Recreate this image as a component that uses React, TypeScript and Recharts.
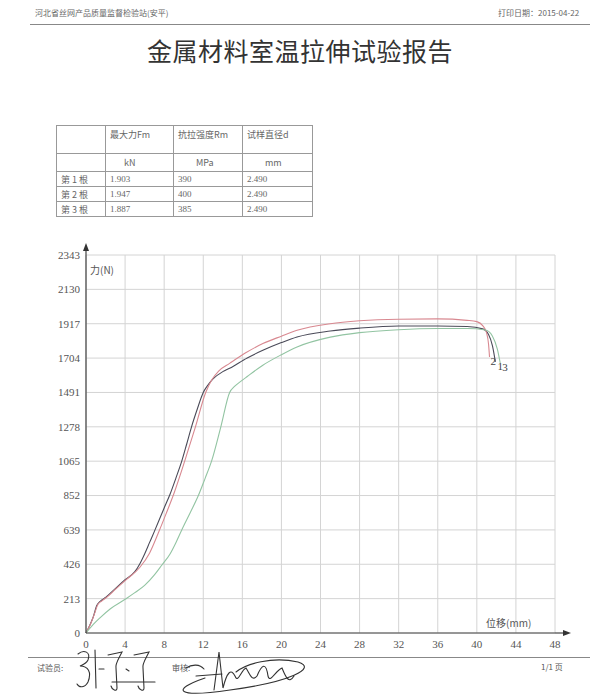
import { CartesianGrid, Line, LineChart, XAxis, YAxis } from "recharts";

// displacement (mm) / force (N) readings for the three specimens
const spec1X = [0, 0.4, 0.75, 1.1, 1.45, 2.0, 3.0, 4.0, 5.0, 5.5, 6.0, 6.5, 7.0, 8.0, 8.6, 9.2, 9.8, 10.3, 10.8, 11.4, 12.0, 12.4, 13.0, 14.0, 14.7, 16.5, 18.1, 20.0, 21.6, 25.0, 28.0, 32.0, 36.0, 39.0, 40.6, 41.2, 41.6, 41.9];
const spec1Y = [0, 50, 101, 170, 196, 220, 275, 330, 380, 428, 490, 560, 630, 775, 860, 960, 1065, 1170, 1278, 1390, 1491, 1530, 1575, 1620, 1641, 1705, 1752, 1800, 1835, 1872, 1890, 1903, 1903, 1900, 1885, 1850, 1780, 1680];

const spec2X = [0, 0.5, 0.9, 1.2, 1.6, 2.2, 3.0, 4.0, 5.5, 6.5, 7.4, 8.2, 9.0, 10.1, 11.2, 12.25, 12.85, 13.6, 14.7, 16.3, 18.1, 20.0, 21.6, 25.0, 28.0, 32.0, 36.0, 39.0, 40.0, 40.6, 41.0, 41.2, 41.3];
const spec2Y = [0, 60, 125, 175, 198, 225, 270, 325, 406, 495, 620, 740, 865, 1065, 1278, 1491, 1567, 1625, 1671, 1735, 1794, 1840, 1876, 1917, 1935, 1945, 1947, 1938, 1930, 1905, 1860, 1790, 1711];

const spec3X = [0, 0.7, 1.4, 2.5, 4.0, 5.0, 6.0, 7.0, 7.75, 8.6, 9.2, 9.8, 10.7, 11.5, 12.2, 12.85, 13.8, 14.7, 15.2, 15.8, 16.5, 18.1, 20.0, 21.6, 25.0, 28.0, 32.0, 36.0, 39.0, 40.9, 41.6, 42.1, 42.4];
const spec3Y = [0, 50, 92, 150, 209, 250, 295, 360, 420, 490, 560, 639, 750, 852, 960, 1065, 1278, 1491, 1528, 1558, 1590, 1660, 1725, 1773, 1834, 1862, 1880, 1887, 1887, 1878, 1840, 1760, 1672];

const xTicks = [0, 4, 8, 12, 16, 20, 24, 28, 32, 36, 40, 44, 48];
const yTicks = [0, 213, 426, 639, 852, 1065, 1278, 1491, 1704, 1917, 2130, 2343];

const rowNames = ["第 1 根", "第 2 根", "第 3 根"];
const maxForce = ["1.903", "1.947", "1.887"];
const strength = ["390", "400", "385"];
const diameter = ["2.490", "2.490", "2.490"];

const toPoints = (xs: number[], ys: number[]) => xs.map((x, i) => ({ x, y: ys[i] }));

const series = [
  { name: "1", color: "#4a4a58", dx: 2, data: toPoints(spec1X, spec1Y) },
  { name: "2", color: "#d88890", dx: 1, data: toPoints(spec2X, spec2Y) },
  { name: "3", color: "#92c4a2", dx: 2, data: toPoints(spec3X, spec3Y) },
];

const serif = '"Liberation Serif", "Noto Sans CJK SC", serif';
const cjk = '"Noto Sans CJK SC", "Liberation Serif", sans-serif';

function EndLabel(props: any) {
  const { x, y, index, count, text, dx } = props;
  if (index !== count - 1) return null;
  return (
    <text x={x + dx} y={y + 8} fontSize={11} fill="#444" fontFamily={serif}>
      {text}
    </text>
  );
}

const cell: React.CSSProperties = {
  border: "1px solid #999",
  padding: "2px 4px",
  verticalAlign: "top",
  color: "#666",
};

export default function App() {
  return (
    <div
      style={{
        position: "absolute",
        left: 0,
        top: 0,
        width: 600,
        height: 700,
        background: "#fff",
        overflow: "hidden",
        fontFamily: cjk,
      }}
    >
      <div style={{ position: "absolute", left: 35, top: 7, fontSize: 8, color: "#666" }}>
        河北省丝网产品质量监督检验站(安平)
      </div>
      <div style={{ position: "absolute", left: 498, top: 7, fontSize: 8, color: "#666" }}>
        打印日期：2015-04-22
      </div>
      <div style={{ position: "absolute", left: 30, top: 24, width: 560, borderTop: "1px solid #888" }} />

      <div
        style={{
          position: "absolute",
          left: 0,
          width: 600,
          top: 32,
          textAlign: "center",
          fontSize: 25,
          color: "#333",
          letterSpacing: 0.5,
        }}
      >
        金属材料室温拉伸试验报告
      </div>

      <table
        style={{
          position: "absolute",
          left: 56,
          top: 125,
          width: 256,
          borderCollapse: "collapse",
          fontSize: 9,
          fontFamily: cjk,
          tableLayout: "fixed",
        }}
      >
        <colgroup>
          <col style={{ width: 49 }} />
          <col style={{ width: 68 }} />
          <col style={{ width: 69 }} />
          <col style={{ width: 70 }} />
        </colgroup>
        <tbody>
          <tr style={{ height: 28 }}>
            <td style={cell}></td>
            <td style={cell}>最大力Fm</td>
            <td style={cell}>抗拉强度Rm</td>
            <td style={cell}>试样直径d</td>
          </tr>
          <tr style={{ height: 17 }}>
            <td style={cell}></td>
            <td style={{ ...cell, paddingLeft: 18, verticalAlign: "middle" }}>kN</td>
            <td style={{ ...cell, paddingLeft: 22, verticalAlign: "middle" }}>MPa</td>
            <td style={{ ...cell, paddingLeft: 22, verticalAlign: "middle" }}>mm</td>
          </tr>
          {rowNames.map((r, i) => (
            <tr key={r} style={{ height: 15 }}>
              <td style={{ ...cell, padding: "0 4px", verticalAlign: "middle", whiteSpace: "pre" }}>{r}</td>
              <td style={{ ...cell, padding: "0 4px", verticalAlign: "middle", fontFamily: serif }}>{maxForce[i]}</td>
              <td style={{ ...cell, padding: "0 4px", verticalAlign: "middle", fontFamily: serif }}>{strength[i]}</td>
              <td style={{ ...cell, padding: "0 4px", verticalAlign: "middle", fontFamily: serif }}>{diameter[i]}</td>
            </tr>
          ))}
        </tbody>
      </table>

      <div style={{ position: "absolute", left: 0, top: 235 }}>
        <LineChart
          width={600}
          height={440}
          margin={{ top: 20, right: 45, bottom: 17, left: 30 }}
        >
          <CartesianGrid stroke="#d4d4d4" strokeWidth={1} horizontalValues={yTicks} verticalValues={xTicks} />
          <XAxis
            type="number"
            dataKey="x"
            domain={[0, 48]}
            ticks={xTicks}
            interval={0}
            height={25}
            tickSize={0}
            tickMargin={7}
            axisLine={{ stroke: "#444", strokeWidth: 1.2 }}
            tick={{ fill: "#555", fontSize: 11, fontFamily: serif }}
            allowDuplicatedCategory={false}
          />
          <YAxis
            type="number"
            dataKey="y"
            domain={[0, 2343]}
            ticks={yTicks}
            interval={0}
            width={56}
            tickSize={0}
            tickMargin={6}
            axisLine={{ stroke: "#444", strokeWidth: 1.2 }}
            tick={{ fill: "#555", fontSize: 11, fontFamily: serif }}
          />
          {series.map((s) => (
            <Line
              key={s.name}
              data={s.data}
              dataKey="y"
              type="monotone"
              stroke={s.color}
              strokeWidth={1.1}
              dot={false}
              isAnimationActive={false}
              label={(p: any) => <EndLabel {...p} count={s.data.length} text={s.name} dx={s.dx} />}
            />
          ))}
        </LineChart>
      </div>

      <div style={{ position: "absolute", left: 90, top: 262, fontSize: 10, color: "#555", fontFamily: cjk }}>
        力(N)
      </div>
      <div style={{ position: "absolute", left: 486, top: 615, fontSize: 10, color: "#555", fontFamily: cjk }}>
        位移(mm)
      </div>

      <div style={{ position: "absolute", left: 28, top: 657, width: 562, borderTop: "1px solid #888" }} />
      <div style={{ position: "absolute", left: 37, top: 662, fontSize: 8, color: "#555" }}>试验员:</div>
      <div style={{ position: "absolute", left: 172, top: 662, fontSize: 8, color: "#555" }}>审核:</div>
      <div style={{ position: "absolute", left: 541, top: 661, fontSize: 8, color: "#555" }}>1/1 页</div>

      <svg width={600} height={700} style={{ position: "absolute", left: 0, top: 0, pointerEvents: "none" }}>
        <line x1={86} y1={255} x2={86} y2={248} stroke="#444" strokeWidth={1.2} />
        <polygon points="86,243 83,251 89,251" fill="#333" />
        <line x1={555} y1={633} x2={564} y2={633} stroke="#444" strokeWidth={1.2} />
        <polygon points="571,633 563,630 563,636" fill="#333" />
        <g fill="none" stroke="#333" strokeWidth={1.1} strokeLinecap="round">
          <path d="M78,654 C84,649 91,652 88,660 C86,664 82,665 80,666 C88,666 92,672 88,682 C85,688 79,688 77,684" />
          <path d="M95,650 L96,688" />
          <path d="M99,669 L104,669" />
          <path d="M108,655 L122,652 C118,660 115,664 116,668 L117,688 C117,692 112,690 111,686" />
          <path d="M126,669 L129,671" />
          <path d="M134,655 L149,652 C145,660 142,664 143,668 L144,688 C144,692 139,690 138,686" />
          <path d="M112,682 L155,682" />
          <path d="M186,668 C192,664 200,664 204,669" />
          <path d="M196,676 L222,674" />
          <path d="M214,690 L219,652 L223,688 C227,672 231,668 235,676 C238,684 241,670 246,668 C250,674 252,682 257,676 C262,664 266,662 268,676 C270,684 276,670 282,668 C286,678 289,684 294,676" />
          <path d="M205,678 C170,690 176,698 230,690 C290,682 318,668 298,662 C272,656 246,664 236,672" />
        </g>
      </svg>
    </div>
  );
}
